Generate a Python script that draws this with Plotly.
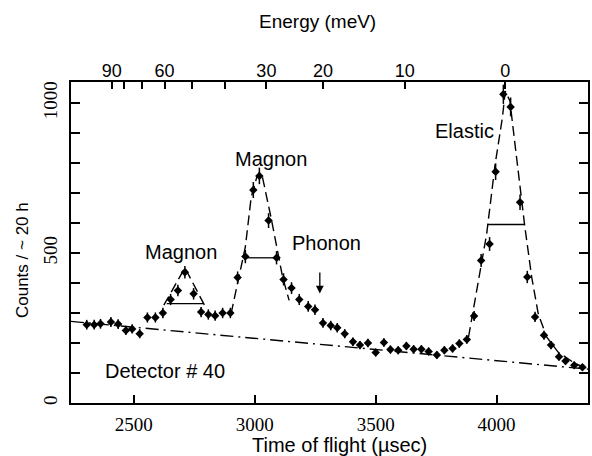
import plotly.graph_objects as go

# ---------------- data ----------------
tof_us = [2305, 2336, 2362, 2405, 2435, 2467, 2493, 2524, 2556, 2589,
          2620, 2652, 2682, 2711, 2747, 2778, 2808, 2836, 2867, 2899,
          2929, 2961, 2994, 3019, 3057, 3090, 3119, 3152, 3184, 3221,
          3249, 3282, 3314, 3341, 3372, 3406, 3435, 3468, 3500, 3534,
          3561, 3593, 3627, 3657, 3689, 3719, 3753, 3784, 3818, 3846,
          3877, 3907, 3936, 3971, 3996, 4028, 4058, 4097, 4127, 4159,
          4196, 4225, 4258, 4285, 4321, 4355]
counts = [261, 261, 264, 270, 263, 242, 247, 231, 285, 285,
          300, 345, 375, 436, 364, 303, 295, 291, 300, 300,
          418, 488, 710, 757, 608, 484, 412, 383, 345, 322,
          311, 267, 258, 251, 231, 204, 193, 200, 168, 202,
          178, 176, 190, 179, 179, 172, 160, 176, 182, 198,
          212, 290, 475, 530, 771, 1029, 987, 669, 420, 287,
          226, 193, 154, 140, 126, 119]

baseline_tof = [2240, 4378]
baseline_counts = [272, 113]

magnon1_fit_tof = [2624, 2711, 2792]
magnon1_fit_counts = [326, 451, 326]

magnon2_fit_tof = [2902, 2929, 2961, 2985, 3008, 3019, 3032, 3067, 3090, 3115, 3142]
magnon2_fit_counts = [298, 400, 520, 685, 752, 768, 752, 619, 519, 420, 342]

elastic_fit_tof = [3884, 3925, 3959, 3994, 4024, 4036, 4055, 4076, 4103, 4117,
                   4134, 4145, 4172, 4207, 4255, 4324, 4378]
elastic_fit_counts = [220, 409, 564, 796, 951, 1040, 1007, 863, 674, 586,
                      486, 420, 298, 220, 169, 132, 113]

fwhm_left = [2636, 2961, 3963]
fwhm_right = [2786, 3090, 4115]
fwhm_level = [331, 484, 595]

phonon_arrow_tof = 3269
phonon_arrow_from = 440
phonon_arrow_to = 365

time_ticks = [2500, 3000, 3500, 4000]
count_ticks = [0, 100, 200, 300, 400, 500, 600, 700, 800, 900, 1000]
count_tick_text = ["0", "", "", "", "", "500", "", "", "", "", "1000"]
energy_tick_tof = [2409, 2460, 2535, 2627, 2741, 2875, 3048, 3282, 3620, 4036]
energy_tick_text = ["90", "", "", "60", "", "", "30", "20", "10", "0"]

X_RANGE = [2240, 4378]
Y_RANGE = [0, 1070]

SANS = "Liberation Sans, Arial, sans-serif"
SERIF = "Liberation Serif, Times New Roman, serif"

# ---------------- figure ----------------
fig = go.Figure()

# dash-dot background line (on the top axis so that axis is drawn)
fig.add_trace(go.Scatter(
    x=baseline_tof, y=baseline_counts, mode="lines", xaxis="x2",
    line=dict(color="black", width=1.4, dash="13px,5px,2px,5px"),
    showlegend=False, hoverinfo="skip"))

for fx, fy in [(magnon1_fit_tof, magnon1_fit_counts),
               (magnon2_fit_tof, magnon2_fit_counts),
               (elastic_fit_tof, elastic_fit_counts)]:
    fig.add_trace(go.Scatter(
        x=fx, y=fy, mode="lines", line=dict(color="black", width=1.4, dash="10px,5px"),
        showlegend=False, hoverinfo="skip"))

bx, by = [], []
for l, r, h in zip(fwhm_left, fwhm_right, fwhm_level):
    bx += [l, r, None]
    by += [h, h, None]
fig.add_trace(go.Scatter(x=bx, y=by, mode="lines",
                         line=dict(color="black", width=1.3),
                         showlegend=False, hoverinfo="skip"))

fig.add_trace(go.Scatter(
    x=tof_us, y=counts, mode="markers",
    marker=dict(symbol="diamond", size=6.5, color="black"),
    error_y=dict(type="sqrt", color="black", thickness=1.5, width=0),
    showlegend=False))

fig.add_annotation(x=phonon_arrow_tof, y=phonon_arrow_to, ax=phonon_arrow_tof,
                   ay=phonon_arrow_from, xref="x", yref="y", axref="x", ayref="y",
                   showarrow=True, arrowhead=2, arrowsize=1.2, arrowwidth=1.3,
                   arrowcolor="black", text="")

labels = [("Magnon", 2693, 505), ("Magnon", 3067, 814), ("Phonon", 3296, 535),
          ("Elastic", 3868, 907), ("Detector # 40", 2629, 106)]
for txt, lx, ly in labels:
    fig.add_annotation(x=lx, y=ly, xref="x", yref="y", text=txt, showarrow=False,
                       xanchor="center", yanchor="middle",
                       font=dict(family=SANS, size=20, color="black"))

fig.add_annotation(x=0.476, y=1.187, xref="paper", yref="paper", text="Energy (meV)",
                   showarrow=False, xanchor="center", yanchor="middle",
                   font=dict(family=SANS, size=19, color="black"))
fig.add_annotation(x=0.519, y=-0.131, xref="paper", yref="paper",
                   text="Time of flight (\u00b5sec)", showarrow=False,
                   xanchor="center", yanchor="middle",
                   font=dict(family=SANS, size=20, color="black"))
fig.add_annotation(x=-0.095, y=0.445, xref="paper", yref="paper",
                   text="Counts / ~ 20 h", showarrow=False, textangle=-90,
                   xanchor="center", yanchor="middle",
                   font=dict(family=SANS, size=17, color="black"))

fig.update_layout(
    width=592, height=456,
    margin=dict(l=71, r=2, t=82, b=53),
    paper_bgcolor="white", plot_bgcolor="white",
    xaxis=dict(range=X_RANGE, tickvals=time_ticks, ticks="inside", ticklen=8,
               tickwidth=1.5, tickcolor="black", showline=True, linecolor="black",
               linewidth=2, mirror=True, showgrid=False, zeroline=False,
               tickfont=dict(family=SERIF, size=19, color="black"),
               ticklabelstandoff=3),
    xaxis2=dict(range=X_RANGE, overlaying="x", side="top", anchor="y",
                tickvals=energy_tick_tof, ticktext=energy_tick_text,
                ticks="inside", ticklen=7, tickwidth=1.5, tickcolor="black",
                showline=False, showgrid=False, zeroline=False,
                tickfont=dict(family=SANS, size=18, color="black")),
    yaxis=dict(range=Y_RANGE, tickvals=count_ticks, ticktext=count_tick_text,
               ticks="inside", ticklen=9, tickwidth=1.5, tickcolor="black",
               showline=True, linecolor="black", linewidth=2, mirror="ticks",
               showgrid=False, zeroline=False, tickangle=-90,
               tickfont=dict(family=SERIF, size=19, color="black"),
               ticklabelstandoff=4),
)

fig.write_html("out.html")
